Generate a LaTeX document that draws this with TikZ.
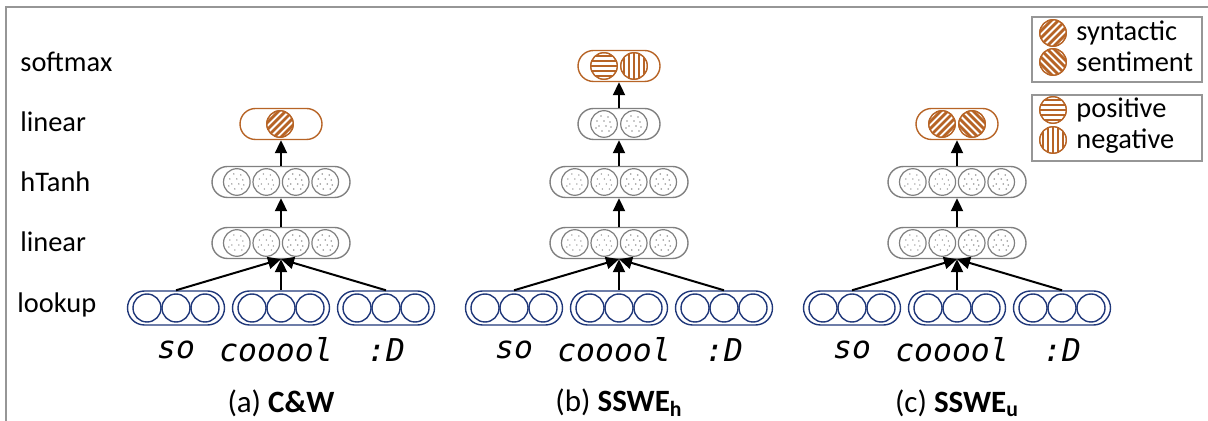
\documentclass[tikz,border=0pt]{standalone}
\usepackage{fontspec}
\setmainfont{Carlito}
\newfontfamily\wordfont{DejaVu Sans Mono}
\usetikzlibrary{shapes.misc,arrows.meta}

\definecolor{brn}{RGB}{183,100,38}
\definecolor{navy}{RGB}{32,56,122}
\definecolor{cellgray}{RGB}{128,128,128}
\definecolor{dotgray}{RGB}{150,150,150}
\definecolor{framegray}{RGB}{150,150,150}

\tikzset{
  capsule/.style={rounded rectangle, draw=cellgray, line width=0.7pt, inner sep=0pt,
    minimum height=15.5pt, fill=white},
  outcapsule/.style={capsule, draw=brn},
  lookcapsule/.style={capsule, draw=navy, minimum width=48.5pt, minimum height=17pt},
  unit/.style={circle, draw=cellgray, line width=0.6pt, inner sep=0pt, minimum size=13.3pt},
  lookunit/.style={circle, draw=navy, line width=0.7pt, inner sep=0pt, minimum size=14pt},
  hatchunit/.style={circle, draw=brn, line width=0.6pt, inner sep=0pt, minimum size=13.3pt},
  flow/.style={line width=1pt, -{Triangle[length=6.5pt,width=6pt]}},
  rowlabel/.style={anchor=west, font=\fontsize{14.2}{16}\selectfont, inner sep=0pt},
  word/.style={font=\wordfont\itshape\fontsize{15.7}{17}\selectfont, inner sep=0pt},
  caption/.style={font=\fontsize{15.5}{18}\selectfont, inner sep=0pt},
  legtext/.style={anchor=west, font=\fontsize{14.2}{16}\selectfont, inner sep=0pt},
}

% gray hidden unit with a scatter of dots
\newcommand\dotunit[3]{%
  \node[unit] (#3) at (#1,#2) {};
  \foreach \dx/\dy in {-3/-8,4/-7,-7/-3,0/-3,6/-2,-5/2,2/2,7/3,-2/7,5/7,-8/4}
    \fill[dotgray] (#1+\dx,#2+\dy) circle[radius=0.8];
}
% brown output unit with stripes at the given angle
\newcommand\hatchunit[4]{%
  \node[hatchunit, fill=white] (#4) at (#1,#2) {};
  \begin{scope}
    \clip (#1,#2) circle[radius=13.3];
    \foreach \k in {-3,...,3}
      \draw[brn, line width=1.4pt, rotate around={#3:(#1,#2)}]
        (#1-16,#2+\k*5) -- (#1+16,#2+\k*5);
  \end{scope}
  \node[hatchunit] at (#1,#2) {};
}
% blue lookup vector with three units
\newcommand\lookup[3]{%
  \node[lookcapsule] (#3) at (#1,#2) {};
  \foreach \dx/\s in {-29/a,0/b,29/c}
    \node[lookunit] (#3\s) at (#1+\dx,#2) {};
}
% gray hidden layer with four units
\newcommand\hidfour[3]{%
  \node[capsule, minimum width=69pt] (#3) at (#1,#2) {};
  \dotunit{#1-44.2}{#2}{#3a}
  \dotunit{#1-14.7}{#2}{#3b}
  \dotunit{#1+14.7}{#2}{#3c}
  \dotunit{#1+44.2}{#2}{#3d}
}

\begin{document}
\begin{tikzpicture}[x=0.5pt,y=-0.5pt]
\useasboundingbox (0,0) rectangle (1208,421);

% frame
\draw[framegray, line width=0.7pt] (6,421) -- (6,7) -- (1208,7);

% row labels
\node[rowlabel] (lsoft) at (20,62) {softmax};
\node[rowlabel] (llin2) at (20,122) {linear};
\node[rowlabel] (lhtanh) at (20,182) {hTanh};
\node[rowlabel] (llin1) at (20,242) {linear};
\node[rowlabel] (llook) at (17,305) {lookup};

% ---------- (a) C&W ----------
\lookup{176}{308}{soA}
\lookup{281}{308}{coA}
\lookup{386}{308}{dA}
\hidfour{281}{243}{linA}
\hidfour{281}{182}{tanA}
\node[outcapsule, minimum width=41pt] (outA) at (281,124) {};
\hatchunit{280}{124}{45}{synA}
\draw[flow] (soA.north) -- (linA.south);
\draw[flow] (coA.north) -- (linA.south);
\draw[flow] (dA.north) -- (linA.south);
\draw[flow] (linA.north) -- (tanA.south);
\draw[flow] (tanA.north) -- (outA.south);
\node[word] (wsoA) at (176,350) {so};
\node[word] (wcoA) at (276,350) {cooool};
\node[word] (wdA) at (386,350) {:D};
\node[caption] (capA) at (281,403) {(a) \textbf{C\&W}};

% ---------- (b) SSWE_h ----------
\lookup{514}{308}{soB}
\lookup{619}{308}{coB}
\lookup{724}{308}{dB}
\hidfour{619}{243}{linB}
\hidfour{619}{182}{tanB}
\node[capsule, minimum width=41pt] (lin2B) at (619,124) {};
\dotunit{604}{124}{lin2Ba}
\dotunit{634}{124}{lin2Bb}
\node[outcapsule, minimum width=41pt] (outB) at (619,66) {};
\hatchunit{604}{66}{0}{posB}
\hatchunit{634}{66}{90}{negB}
\draw[flow] (soB.north) -- (linB.south);
\draw[flow] (coB.north) -- (linB.south);
\draw[flow] (dB.north) -- (linB.south);
\draw[flow] (linB.north) -- (tanB.south);
\draw[flow] (tanB.north) -- (lin2B.south);
\draw[flow] (lin2B.north) -- (outB.south);
\node[word] (wsoB) at (514,350) {so};
\node[word] (wcoB) at (614,350) {cooool};
\node[word] (wdB) at (724,350) {:D};
\node[caption] (capB) at (619,403) {(b) \textbf{SSWE\textsubscript{h}}};

% ---------- (c) SSWE_u ----------
\lookup{852}{308}{soC}
\lookup{957}{308}{coC}
\lookup{1062}{308}{dC}
\hidfour{957}{243}{linC}
\hidfour{957}{182}{tanC}
\node[outcapsule, minimum width=41pt] (outC) at (957,124) {};
\hatchunit{942}{124}{45}{synC}
\hatchunit{972}{124}{-45}{senC}
\draw[flow] (soC.north) -- (linC.south);
\draw[flow] (coC.north) -- (linC.south);
\draw[flow] (dC.north) -- (linC.south);
\draw[flow] (linC.north) -- (tanC.south);
\draw[flow] (tanC.north) -- (outC.south);
\node[word] (wsoC) at (852,350) {so};
\node[word] (wcoC) at (952,350) {cooool};
\node[word] (wdC) at (1062,350) {:D};
\node[caption] (capC) at (957,403) {(c) \textbf{SSWE\textsubscript{u}}};

% ---------- legend ----------
\draw[framegray, line width=0.7pt] (1032,17) rectangle (1202,82);
\draw[framegray, line width=0.7pt] (1032,95) rectangle (1202,161);
\hatchunit{1053}{33}{45}{legsyn}
\hatchunit{1053}{62}{-45}{legsen}
\hatchunit{1053}{110}{0}{legpos}
\hatchunit{1053}{140}{90}{legneg}
\node[legtext] (tsyn) at (1076,33) {syntactic};
\node[legtext] (tsen) at (1076,62) {sentiment};
\node[legtext] (tpos) at (1076,110) {positive};
\node[legtext] (tneg) at (1076,141) {negative};
\end{tikzpicture}
\end{document}
